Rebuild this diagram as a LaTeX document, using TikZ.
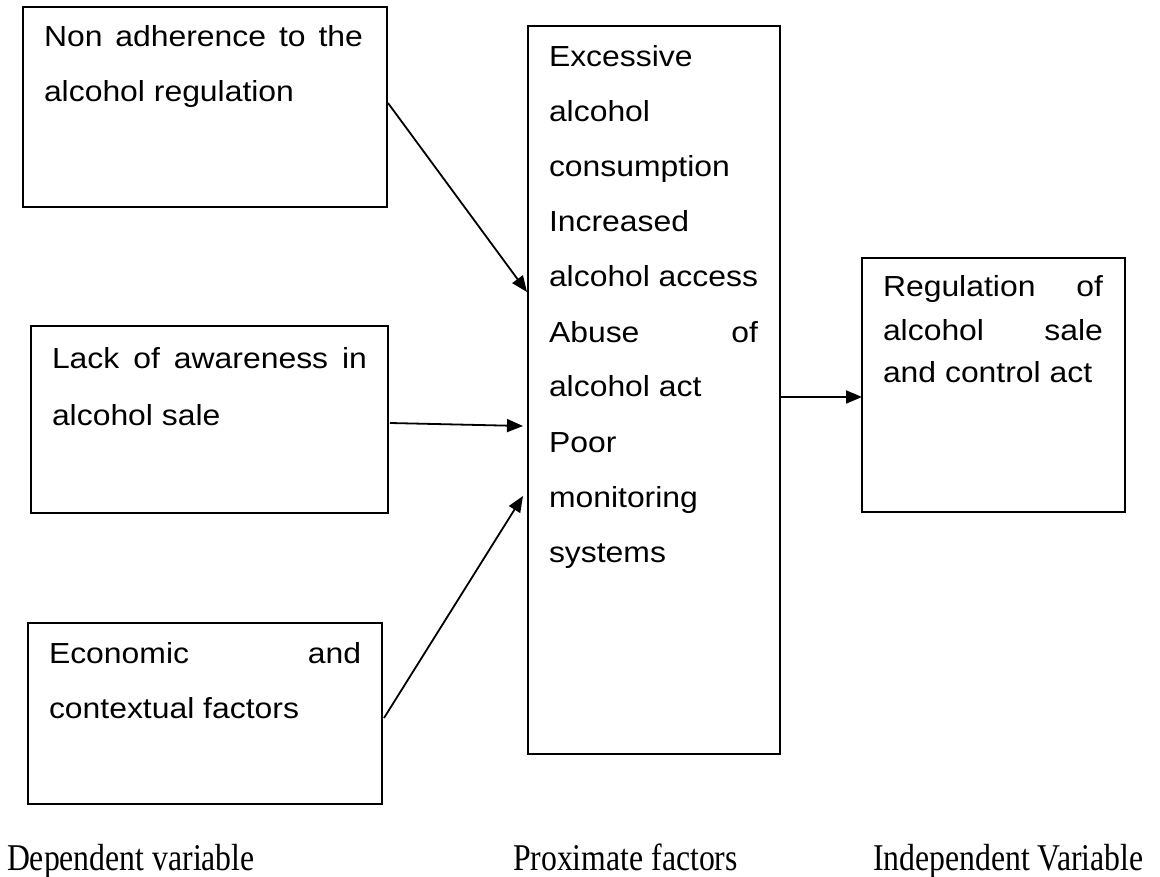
\documentclass[tikz,border=0pt]{standalone}
\usepackage{fontspec}
\newfontfamily\boxfont[FakeStretch=1.1]{Liberation Sans}
\newfontfamily\labfont[FakeStretch=0.84]{Liberation Serif}
\usetikzlibrary{arrows.meta}
\tikzset{
  frame/.style={draw=black, line width=1.6pt, inner sep=0pt, outer sep=0pt, anchor=north west},
  txt/.style={anchor=base west, inner sep=0pt, outer sep=0pt, font=\boxfont\fontsize{29}{29}\selectfont},
  lab/.style={anchor=base west, inner sep=0pt, outer sep=0pt, font=\labfont\fontsize{37.8}{38}\selectfont},
  conn/.style={line width=1.8pt, -{Triangle[length=16pt,width=13pt]}}
}
\begin{document}
\begin{tikzpicture}[x=1pt,y=-1pt]
\useasboundingbox (0,0) rectangle (1160,877);

% boxes
\node[frame, minimum width=364pt, minimum height=200pt] (b1) at (23,7) {};
\node[frame, minimum width=357pt, minimum height=187pt] (b2) at (31,326) {};
\node[frame, minimum width=354pt, minimum height=181pt] (b3) at (28,623) {};
\node[frame, minimum width=252pt, minimum height=728pt] (mid) at (528,26) {};
\node[frame, minimum width=263pt, minimum height=254pt] (rb) at (862,258) {};

% texts box 1
\node[txt] (t1a) at (44,47) {\makebox[319pt][s]{Non adherence to the}};
\node[txt] (t1b) at (44,102) {alcohol regulation};
% box 2
\node[txt] (t2a) at (52,369) {\makebox[315pt][s]{Lack of awareness in}};
\node[txt] (t2b) at (52,425) {alcohol sale};
% box 3
\node[txt] (t3a) at (49,663) {\makebox[312pt][s]{Economic and}};
\node[txt] (t3b) at (49,718) {contextual factors};
% middle
\node[txt] (m1) at (549,66.7) {Excessive};
\node[txt] (m2) at (549,121.7) {alcohol};
\node[txt] (m3) at (549,176.7) {consumption};
\node[txt] (m4) at (549,231.7) {Increased};
\node[txt] (m5) at (549,286.7) {\makebox[209pt][s]{alcohol access}};
\node[txt] (m6) at (549,342.7) {\makebox[209pt][s]{Abuse of}};
\node[txt] (m7) at (549,397) {alcohol act};
\node[txt] (m8) at (549,452.7) {Poor};
\node[txt] (m9) at (549,507.7) {monitoring};
\node[txt] (m10) at (549,562.7) {systems};
% right
\node[txt] (r1) at (883,296.7) {\makebox[220pt][s]{Regulation of}};
\node[txt] (r2) at (883,340.7) {\makebox[220pt][s]{alcohol sale}};
\node[txt] (r3) at (883,382.7) {and control act};

% labels
\node[lab] (l1) at (7,870) {Dependent variable};
\node[lab] (l2) at (513,870) {Proximate factors};
\node[lab] (l3) at (873,870) {Independent Variable};

% connectors
\draw[conn] ([xshift=1pt,yshift=-96pt]b1.north east) -- ([xshift=-1pt,yshift=-266pt]mid.north west);
\draw[conn] ([xshift=2pt,yshift=-97pt]b2.north east) -- ([xshift=-5pt,yshift=-400pt]mid.north west);
\draw[conn] ([xshift=2pt,yshift=-95pt]b3.north east) -- ([xshift=-5pt,yshift=-470pt]mid.north west);
\draw[conn] ([yshift=-371pt]mid.north east) -- ([yshift=-139pt]rb.north west);
\end{tikzpicture}
\end{document}
